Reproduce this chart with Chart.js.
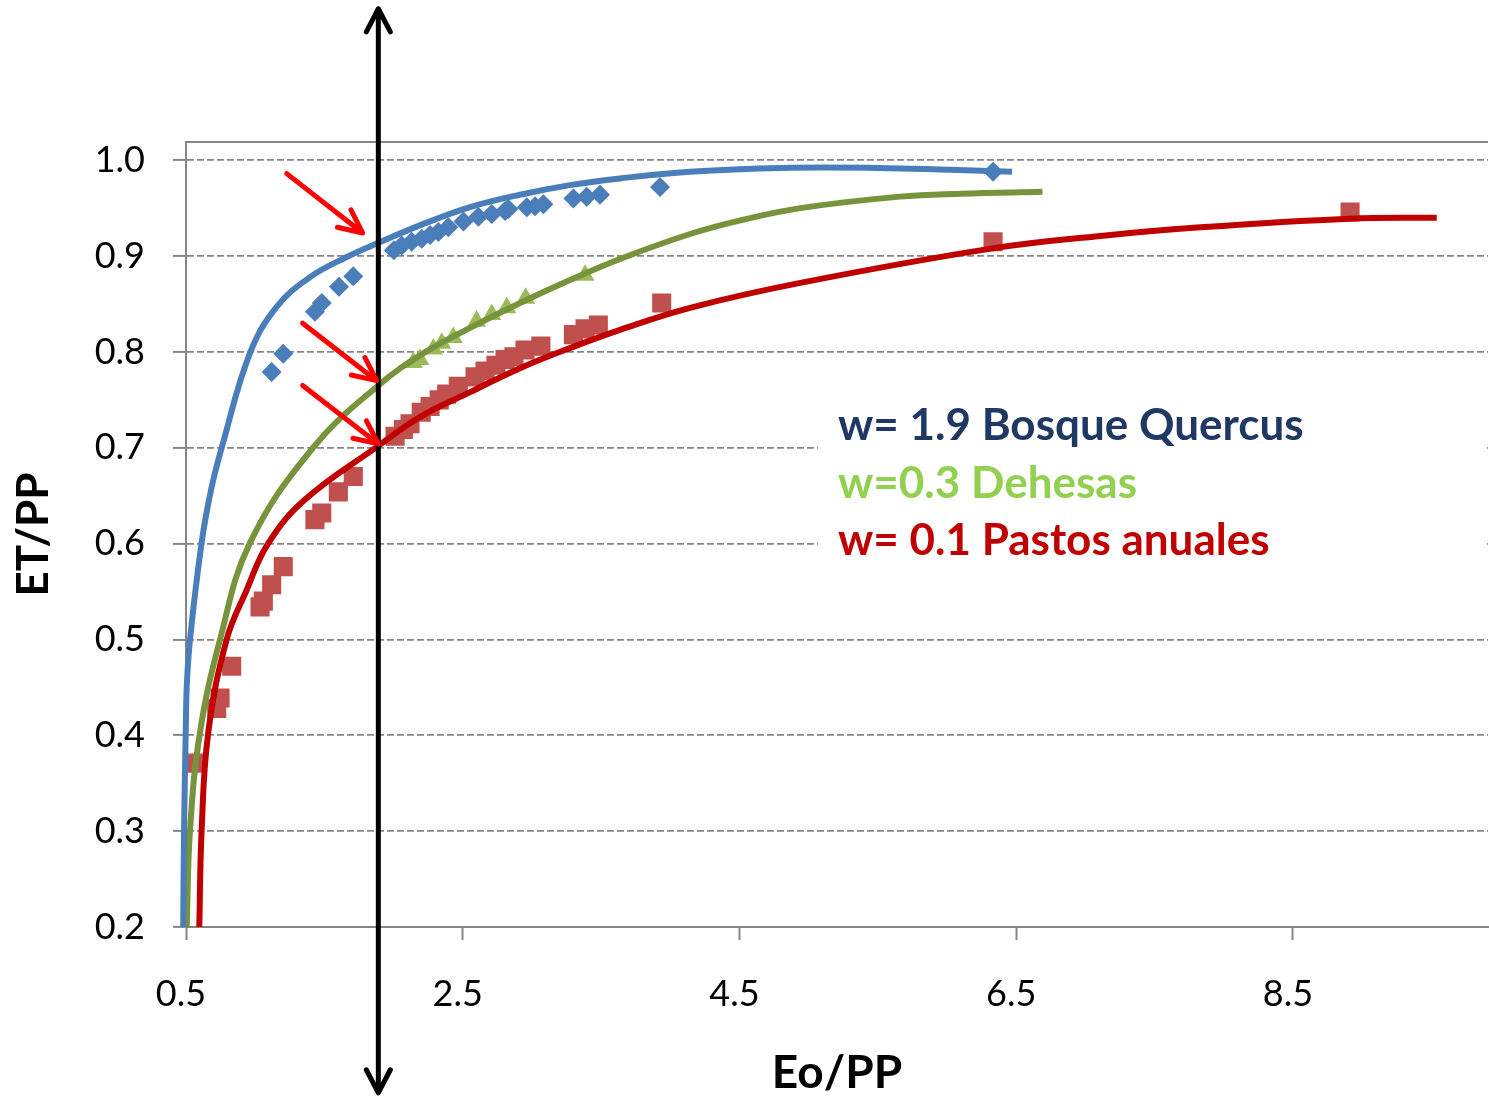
<!DOCTYPE html>
<html lang="es">
<head>
    <meta charset="UTF-8">
    <title>ET/PP frente a Eo/PP</title>
    <script src="https://cdn.jsdelivr.net/npm/chart.js"></script>
    <style>
        html, body {
            margin: 0;
            padding: 0;
            background: #ffffff;
        }
        #wrap {
            width: 1489px;
            height: 1098px;
            position: relative;
        }
    </style>
</head>
<body>
    <div id="wrap"><canvas id="budyko"></canvas></div>

    <script>
        // axis range and tick labels
        var xRange = [0.5, 9.91];
        var xTicks = [0.5, 2.5, 4.5, 6.5, 8.5];
        var yTicks = [0.2, 0.3, 0.4, 0.5, 0.6, 0.7, 0.8, 0.9, 1.0];

        // fitted curves [Eo/PP, ET/PP]
        var curveQuercus = [[0.480, 0.200], [0.486, 0.302], [0.498, 0.403], [0.505, 0.450], [0.529, 0.500],
            [0.613, 0.601], [0.681, 0.656], [0.758, 0.700], [0.963, 0.799], [1.155, 0.847], [1.396, 0.878],
            [1.662, 0.899], [1.878, 0.913], [2.190, 0.932], [2.553, 0.951], [2.914, 0.964], [3.275, 0.974],
            [3.637, 0.981], [4.143, 0.988], [4.800, 0.992], [5.500, 0.992], [6.020, 0.990], [6.470, 0.988]];
        var curveDehesas = [[0.505, 0.200], [0.529, 0.301], [0.601, 0.403], [0.746, 0.500], [0.963, 0.601],
            [1.418, 0.700], [1.890, 0.765], [2.220, 0.799], [2.553, 0.825], [2.914, 0.851], [3.275, 0.875],
            [3.637, 0.897], [4.143, 0.923], [4.500, 0.937], [4.940, 0.950], [5.660, 0.962], [6.100, 0.965],
            [6.690, 0.967]];
        var curvePastos = [[0.596, 0.200], [0.613, 0.301], [0.661, 0.403], [0.794, 0.500], [0.934, 0.550],
            [1.093, 0.600], [1.360, 0.646], [1.890, 0.702], [2.190, 0.732], [2.553, 0.758], [2.914, 0.783],
            [3.275, 0.804], [3.637, 0.823], [4.143, 0.846], [4.940, 0.872], [6.330, 0.908], [7.110, 0.921],
            [7.830, 0.930], [8.910, 0.939], [9.540, 0.940]];

        // observed points
        var obsQuercus = [[1.119, 0.779], [1.203, 0.798], [1.432, 0.842], [1.481, 0.851], [1.606, 0.868],
            [1.709, 0.879], [2.003, 0.906], [2.059, 0.911], [2.131, 0.915], [2.204, 0.918], [2.264, 0.922],
            [2.324, 0.925], [2.396, 0.930], [2.505, 0.936], [2.613, 0.941], [2.710, 0.944], [2.806, 0.947],
            [2.830, 0.949], [2.963, 0.951], [3.023, 0.952], [3.083, 0.954], [3.300, 0.960], [3.396, 0.962],
            [3.492, 0.964], [3.926, 0.972], [6.333, 0.988]];
        var obsDehesas = [[2.143, 0.789], [2.190, 0.792], [2.288, 0.803], [2.348, 0.809], [2.432, 0.815],
            [2.600, 0.832], [2.710, 0.839], [2.818, 0.846], [2.955, 0.856], [3.384, 0.880]];
        var obsPastos = [[0.565, 0.371], [0.722, 0.428], [0.746, 0.439], [0.830, 0.472], [1.035, 0.534],
            [1.059, 0.540], [1.119, 0.557], [1.203, 0.576], [1.432, 0.625], [1.481, 0.632], [1.601, 0.654],
            [1.709, 0.670], [2.011, 0.712], [2.071, 0.719], [2.119, 0.725], [2.200, 0.737], [2.264, 0.743],
            [2.330, 0.750], [2.384, 0.756], [2.468, 0.764], [2.589, 0.774], [2.661, 0.780], [2.740, 0.786],
            [2.806, 0.792], [2.870, 0.795], [2.950, 0.802], [3.065, 0.806], [3.300, 0.818], [3.384, 0.824],
            [3.480, 0.828], [3.938, 0.851], [6.333, 0.915], [8.913, 0.946]];

        // annotations (data units)
        var guideLine = { x: 1.89, yTop: 1.158, yBottom: 0.027 };
        var redArrows = [
            { x1: 1.228, y1: 0.986, x2: 1.777, y2: 0.924 },
            { x1: 1.343, y1: 0.830, x2: 1.878, y2: 0.770 },
            { x1: 1.343, y1: 0.765, x2: 1.890, y2: 0.704 }
        ];
        var legendLabels = ['w= 1.9 Bosque Quercus', 'w=0.3 Dehesas', 'w= 0.1 Pastos anuales'];
        var legendColors = ['#1F3864', '#92D050', '#C00000'];

        var axisGray = '#868686';

        function drawArrowHead(ctx, tx, ty, angle, len, spread) {
            ctx.beginPath();
            ctx.moveTo(tx - len * Math.cos(angle - spread), ty - len * Math.sin(angle - spread));
            ctx.lineTo(tx, ty);
            ctx.lineTo(tx - len * Math.cos(angle + spread), ty - len * Math.sin(angle + spread));
            ctx.stroke();
        }

        var legendBox = {
            id: 'legendBox',
            afterDatasetsDraw: function(chart) {
                var ctx = chart.ctx;
                ctx.save();
                ctx.fillStyle = '#ffffff';
                ctx.fillRect(818, 396, 667, 176);
                ctx.font = 'bold 44px Lato';
                ctx.textAlign = 'left';
                ctx.textBaseline = 'alphabetic';
                legendLabels.forEach(function(txt, i) {
                    ctx.fillStyle = legendColors[i];
                    ctx.fillText(txt, 838, 440 + i * 57.5);
                });
                ctx.restore();
            }
        };

        var guides = {
            id: 'guides',
            afterDraw: function(chart) {
                var ctx = chart.ctx;
                var xs = chart.scales.x, ys = chart.scales.y;
                var area = chart.chartArea;
                ctx.save();

                // top frame line
                ctx.strokeStyle = axisGray;
                ctx.lineWidth = 2;
                ctx.beginPath();
                ctx.moveTo(area.left, area.top);
                ctx.lineTo(area.right, area.top);
                ctx.stroke();

                // vertical double arrow
                var gx = xs.getPixelForValue(guideLine.x);
                var gTop = ys.getPixelForValue(guideLine.yTop);
                var gBot = ys.getPixelForValue(guideLine.yBottom);
                ctx.strokeStyle = '#000000';
                ctx.lineWidth = 5;
                ctx.lineCap = 'round';
                ctx.lineJoin = 'round';
                ctx.beginPath();
                ctx.moveTo(gx, gTop + 2);
                ctx.lineTo(gx, gBot - 2);
                ctx.stroke();
                drawArrowHead(ctx, gx, gTop, -Math.PI / 2, 26, 0.48);
                drawArrowHead(ctx, gx, gBot, Math.PI / 2, 26, 0.48);

                // red arrows
                ctx.strokeStyle = '#FF0000';
                ctx.lineWidth = 5;
                redArrows.forEach(function(a) {
                    var px1 = xs.getPixelForValue(a.x1), py1 = ys.getPixelForValue(a.y1);
                    var px2 = xs.getPixelForValue(a.x2), py2 = ys.getPixelForValue(a.y2);
                    var ang = Math.atan2(py2 - py1, px2 - px1);
                    ctx.beginPath();
                    ctx.moveTo(px1, py1);
                    ctx.lineTo(px2 - 2 * Math.cos(ang), py2 - 2 * Math.sin(ang));
                    ctx.stroke();
                    drawArrowHead(ctx, px2, py2, ang, 26, 0.44);
                });
                ctx.restore();
            }
        };

        var tickFont = { family: 'Lato', size: 36 };

        new Chart(document.getElementById('budyko'), {
            type: 'scatter',
            data: {
                datasets: [
                    { label: 'curva w=1.9', data: curveQuercus, showLine: true, borderColor: '#4A7EBB', borderWidth: 6,
                      pointRadius: 0, tension: 0.4, clip: 10, order: 0 },
                    { label: 'curva w=0.3', data: curveDehesas, showLine: true, borderColor: '#77933C', borderWidth: 6,
                      pointRadius: 0, tension: 0.4, clip: 10, order: 0 },
                    { label: 'curva w=0.1', data: curvePastos, showLine: true, borderColor: '#C00000', borderWidth: 6,
                      pointRadius: 0, tension: 0.4, clip: 10, order: 0 },
                    { label: 'Bosque Quercus', data: obsQuercus, pointStyle: 'rectRot', pointRadius: 10,
                      backgroundColor: '#4A7EBB', borderWidth: 0, order: 1 },
                    { label: 'Dehesas', data: obsDehesas, pointStyle: 'triangle', pointRadius: 11,
                      backgroundColor: '#9BBB59', borderWidth: 0, order: 1 },
                    { label: 'Pastos anuales', data: obsPastos, pointStyle: 'rect', pointRadius: 13.5,
                      backgroundColor: '#C0504D', borderWidth: 0, order: 1 }
                ]
            },
            options: {
                responsive: true,
                maintainAspectRatio: false,
                animation: false,
                layout: { autoPadding: false, padding: { top: 142, right: 1, bottom: 0, left: 0 } },
                plugins: {
                    legend: { display: false },
                    tooltip: { enabled: false }
                },
                scales: {
                    x: {
                        type: 'linear',
                        bounds: 'data',
                        // range set here (not min/max) so the curve points left of 0.5 are still drawn
                        afterDataLimits: function(s) { s.min = xRange[0]; s.max = xRange[1]; },
                        afterBuildTicks: function(s) { s.ticks = xTicks.map(function(v) { return { value: v }; }); },
                        afterFit: function(s) { s.height = 171; s.paddingLeft = 0; s.paddingRight = 0; },
                        grid: { drawOnChartArea: false, drawTicks: true, tickLength: 13, tickColor: axisGray, tickWidth: 2 },
                        border: { display: true, color: axisGray, width: 2 },
                        ticks: {
                            font: tickFont, color: '#000000', padding: 33, labelOffset: -5,
                            maxRotation: 0, autoSkip: false,
                            callback: function(v) { return Number(v).toFixed(1); }
                        },
                        title: {
                            display: true, text: 'Eo/PP', color: '#000000',
                            font: { family: 'Lato', size: 46, weight: 'bold', lineHeight: 1.1 },
                            padding: { top: 0, bottom: 0 }
                        }
                    },
                    y: {
                        min: 0.2,
                        max: 1.019,
                        afterBuildTicks: function(s) { s.ticks = yTicks.map(function(v) { return { value: v }; }); },
                        afterFit: function(s) { s.width = 186; s.paddingTop = 0; s.paddingBottom = 0; },
                        grid: { color: axisGray, lineWidth: 1.8, drawTicks: true, tickLength: 13, tickColor: axisGray, tickWidth: 2 },
                        border: { display: true, color: axisGray, width: 2, dash: [7, 3] },
                        ticks: {
                            font: tickFont, color: '#000000', padding: 28,
                            callback: function(v) { return Number(v).toFixed(1); }
                        },
                        title: {
                            display: true, text: 'ET/PP', color: '#000000',
                            font: { family: 'Lato', size: 44, weight: 'bold', lineHeight: 1.1 },
                            padding: { top: 10, bottom: 0 }
                        }
                    }
                }
            },
            plugins: [legendBox, guides]
        });
    </script>
</body>
</html>
